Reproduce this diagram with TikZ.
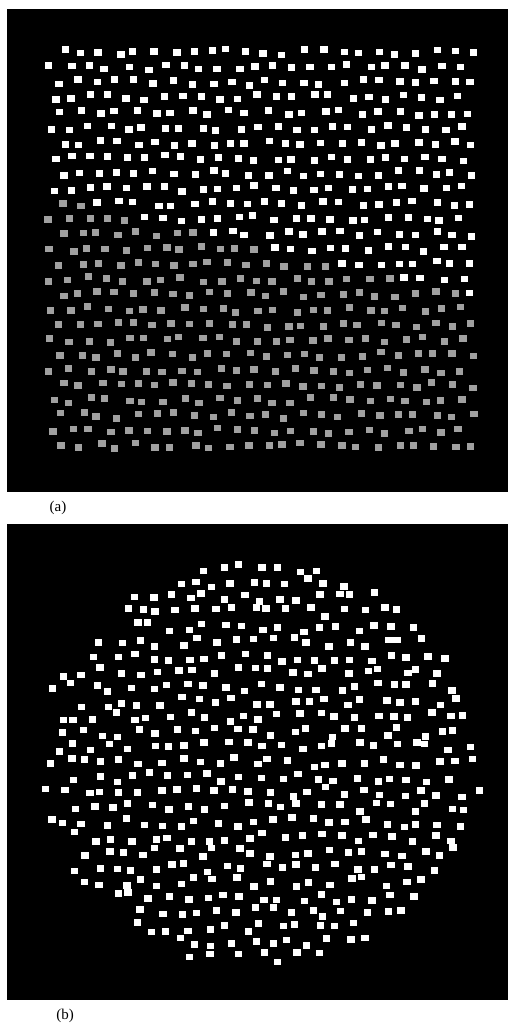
\documentclass[tikz,border=0pt]{standalone}
\usepackage{fontspec}
\setmainfont{Liberation Serif}
\definecolor{dimgray}{HTML}{A0A0A0}

\begin{document}
\begin{tikzpicture}[x=1pt,y=-1pt,
  panel/.style={fill=black},
  spot/.style={fill=white},
  dimspot/.style={fill=dimgray},
  tag/.style={font=\fontsize{15}{17}\selectfont,inner sep=0pt}]
\useasboundingbox (0,0) rectangle (508,1025);
\pgfmathsetseed{4711}

% (a) jittered lattice, lower left part grey
\fill[panel] (7,9) rectangle (508,492);
\foreach \j in {0,...,26}{
  \foreach \i in {0,...,22}{
    \pgfmathsetmacro\px{62-10*mod(\j,2)+18.6*\i+4*rand}
    \pgfmathsetmacro\py{52+15.15*\j+3*rand}
    \pgfmathtruncatemacro\isgrey{\py>197+0.235*(\px-50) ? 1 : 0}
    \ifnum\isgrey=1
      \fill[dimspot] (\px-3.7,\py-3.3) rectangle ++(7.4,6.6);
    \else
      \fill[spot] (\px-3.7,\py-3.3) rectangle ++(7.4,6.6);
    \fi
  }
}
\node[tag] (taga) at (58,508) {(a)};

% (b) scattered spots inside a disc
\fill[panel] (7,524) rectangle (508,1000);
\foreach \j in {0,...,28}{
  \foreach \i in {0,...,25}{
    \pgfmathsetmacro\px{30-9.3*mod(\j,2)+18.6*\i+6*rand}
    \pgfmathsetmacro\py{552+15*\j+5*rand}
    \pgfmathtruncatemacro\inside{((\px-262)/215)^2+((\py-760)/203)^2<1+0.08*rand ? 1 : 0}
    \ifnum\inside=1
      \fill[spot] (\px-3.7,\py-3.3) rectangle ++(7.4,6.6);
    \fi
  }
}
\node[tag] (tagb) at (65,1016) {(b)};
\end{tikzpicture}
\end{document}
